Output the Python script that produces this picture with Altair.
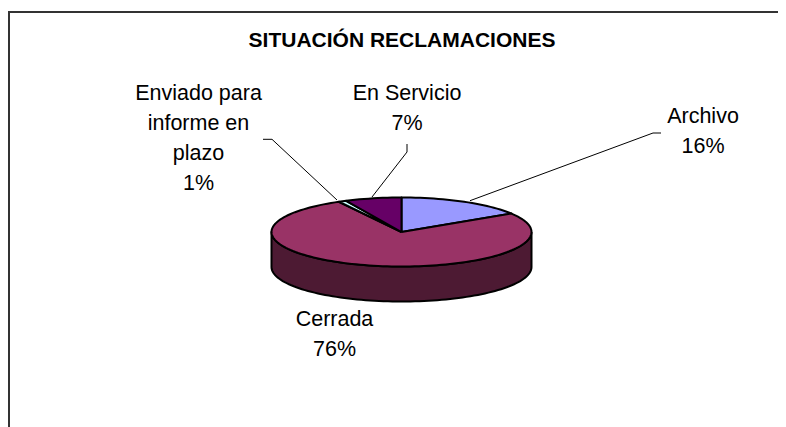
import math
import altair as alt
import pandas as pd

TITLE = "SITUACIÓN RECLAMACIONES"
names = ["Archivo", "Cerrada", "Enviado para\ninforme en\nplazo", "En Servicio"]
shares = [16, 76, 1, 7]
colors = ["#9999FF", "#993366", "#CCFFFF", "#660066"]
SIDE_COLOR = "#4D1A33"

# layout (page pixels)
W, H = 770, 419
OX, OY = 8, 8
CX, CY = 401.5, 232
RX, RY = 130, 34.5
DEPTH = 35
FONT = "Liberation Sans"
label_pos = [(703, 123), (334.5, 326), (198.5, 100), (407, 100)]
leaders = [
    [(470, 200.7), (653, 133), (661, 133)],
    None,
    [(337, 200), (272, 139.3), (263, 139.3)],
    [(372, 197), (407, 152), (407, 144)],
]


def ux(px):
    return (px - CX) / RX


def uy(py):
    return (CY - py) / RY


x_scale = alt.Scale(domain=[ux(OX), ux(OX + W)], range=[0, W], nice=False, zero=False)
y_scale = alt.Scale(domain=[uy(OY + H), uy(OY)], range=[H, 0], nice=False, zero=False)
X = lambda f="x": alt.X(f"{f}:Q", scale=x_scale, axis=None)
Y = lambda f="y": alt.Y(f"{f}:Q", scale=y_scale, axis=None)


def polygon(points, fill, sw=2):
    df = pd.DataFrame([{"x": a, "y": b, "i": i} for i, (a, b) in enumerate(points)])
    return alt.Chart(df).mark_line(
        fill=fill, stroke="#000000", strokeWidth=sw, strokeJoin="round", clip=False
    ).encode(x=X(), y=Y(), order="i:Q")


def arc(a0, a1, dy=0.0):
    n = max(2, int(abs(a1 - a0) / 2))
    return [
        (math.sin(math.radians(a0 + (a1 - a0) * k / n)),
         math.cos(math.radians(a0 + (a1 - a0) * k / n)) - dy)
        for k in range(n + 1)
    ]


layers = []
# frame
for enc in (
    dict(x=alt.value(0), x2=alt.value(W), y=alt.value(4)),
    dict(x=alt.value(1), y=alt.value(4), y2=alt.value(H)),
):
    layers.append(
        alt.Chart(pd.DataFrame({"a": [0]})).mark_rule(color="#333333", strokeWidth=2).encode(**enc)
    )

# side wall
d = DEPTH / RY
side = arc(90, 270) + arc(270, 90, d)
layers.append(polygon(side + side[:1], SIDE_COLOR))

# top slices
cum = 0
for s, c in zip(shares, colors):
    a0, a1 = cum * 3.6, (cum + s) * 3.6
    cum += s
    pts = [(0, 0)] + arc(a0, a1) + [(0, 0)]
    layers.append(polygon(pts, c))

# leader lines
for ld in leaders:
    if ld:
        df = pd.DataFrame([{"x": ux(a), "y": uy(b), "i": i} for i, (a, b) in enumerate(ld)])
        layers.append(
            alt.Chart(df).mark_line(color="#000000", strokeWidth=1).encode(x=X(), y=Y(), order="i:Q")
        )

# labels
rows = [
    {"t": f"{n}\n{s}%", "x": ux(p[0]), "y": uy(p[1])}
    for n, s, p in zip(names, shares, label_pos)
]
layers.append(
    alt.Chart(pd.DataFrame(rows)).mark_text(
        font=FONT, fontSize=21.5, color="#000000", align="center", baseline="alphabetic",
        lineBreak="\n", lineHeight=30,
    ).encode(x=X(), y=Y(), text="t:N")
)
# title
layers.append(
    alt.Chart(pd.DataFrame({"t": [TITLE], "x": [ux(402)], "y": [uy(46.5)]})).mark_text(
        font=FONT, fontSize=21, fontWeight="bold", color="#000000", align="center", baseline="alphabetic",
    ).encode(x=X(), y=Y(), text="t:N")
)

chart = alt.layer(*layers).properties(
    width=W, height=H, padding=0, autosize=alt.AutoSizeParams(type="none"), background="white"
).configure_view(stroke=None)

chart.save("out.html", embed_options={"renderer": "svg", "actions": False})
